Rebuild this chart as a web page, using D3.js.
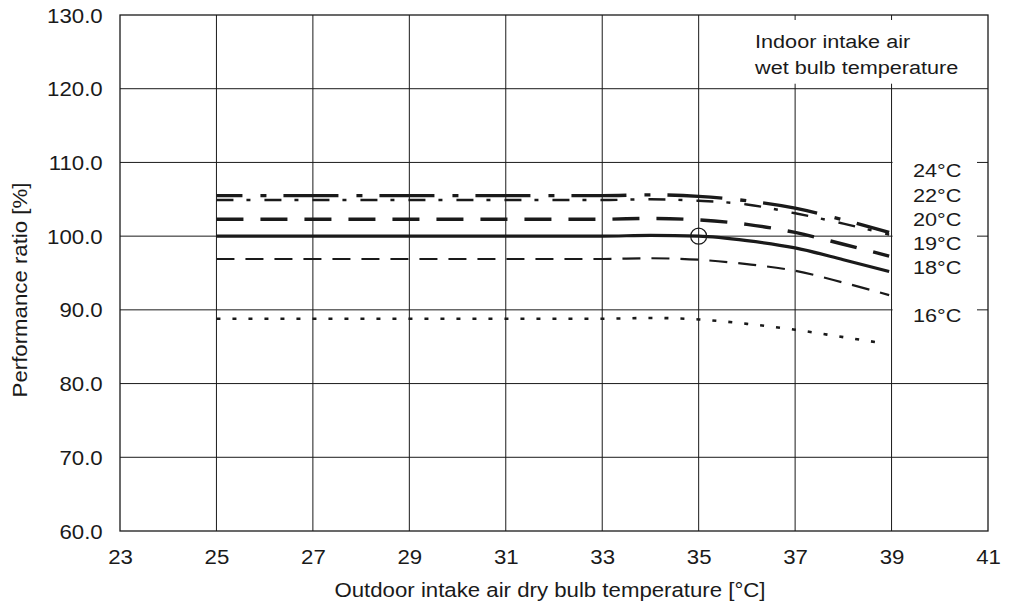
<!DOCTYPE html>
<html>
<head>
<meta charset="utf-8">
<script src="https://cdn.jsdelivr.net/npm/d3@7"></script>
<style>
  body { margin: 0; background: #fff; }
  text { font-family: "Liberation Sans", Arial, Helvetica, sans-serif; fill: #1a1a1a; }
</style>
</head>
<body>
<svg id="chart"></svg>
<script>
// Data
const temps = [25, 33, 34, 35, 36, 37, 38, 38.95];
const temps16 = [25, 33, 34, 35, 36, 37, 38, 38.8];
const wb24 = [105.5, 105.5, 105.6, 105.4, 104.8, 103.8, 102.2, 100.5];
const wb22 = [104.9, 104.9, 105.0, 104.8, 104.3, 103.1, 101.7, 100.2];
const wb20 = [102.3, 102.3, 102.4, 102.2, 101.6, 100.5, 98.9, 97.3];
const wb19 = [100.0, 100.0, 100.1, 100.0, 99.4, 98.4, 96.8, 95.2];
const wb18 = [96.9, 96.9, 97.0, 96.8, 96.2, 95.3, 93.7, 92.0];
const wb16 = [88.8, 88.8, 88.9, 88.7, 88.1, 87.3, 86.3, 85.5];
const seriesLabels = ["24°C", "22°C", "20°C", "19°C", "18°C", "16°C"];
const xTicks = [23, 25, 27, 29, 31, 33, 35, 37, 39, 41];
const yTicks = [60, 70, 80, 90, 100, 110, 120, 130];
const ratedPoint = [35, 100];

const width = 1029, height = 610;
const margin = { top: 15, right: 41, bottom: 79, left: 120 };
const stretch = 1.14; // reference glyphs are wider than Arial

const svg = d3.select("#chart").attr("width", width).attr("height", height);

const x = d3.scaleLinear().domain([23, 41]).range([margin.left, width - margin.right]);
const y = d3.scaleLinear().domain([60, 130]).range([height - margin.bottom, margin.top]);

const ink = "#1a1a1a";

// grid
svg.append("g")
  .selectAll("line.v")
  .data(xTicks.slice(1, -1))
  .join("line")
  .attr("x1", d => x(d)).attr("x2", d => x(d))
  .attr("y1", y(130)).attr("y2", y(60))
  .attr("stroke", ink).attr("stroke-width", 1);

svg.append("g")
  .selectAll("line.h")
  .data(yTicks.slice(1, -1))
  .join("line")
  .attr("x1", x(23)).attr("x2", x(41))
  .attr("y1", d => y(d)).attr("y2", d => y(d))
  .attr("stroke", ink).attr("stroke-width", 1);

// white panels for legend title and series labels (grid shows only as stubs)
svg.append("rect")
  .attr("x", x(35) + 6).attr("y", y(130) + 5)
  .attr("width", x(41) - x(35) - 7).attr("height", y(120) - y(130) - 10)
  .attr("fill", "#fff");
svg.append("rect")
  .attr("x", x(39) + 1).attr("y", y(112))
  .attr("width", x(41) - x(39) - 12).attr("height", y(86) - y(112))
  .attr("fill", "#fff");

// border
svg.append("rect")
  .attr("x", x(23)).attr("y", y(130))
  .attr("width", x(41) - x(23)).attr("height", y(60) - y(130))
  .attr("fill", "none").attr("stroke", ink).attr("stroke-width", 1.3);

// axes
const xAxis = d3.axisBottom(x).tickValues(xTicks).tickSize(0).tickFormat(d3.format("d"));
svg.append("g")
  .attr("transform", `translate(0,${y(60)})`)
  .call(xAxis)
  .call(g => g.select(".domain").remove())
  .call(g => g.selectAll("text")
    .attr("y", 19.5).attr("dy", "0.71em")
    .attr("transform", `scale(${stretch},1)`)
    .attr("font-size", 19.5).attr("fill", ink));

const yAxis = d3.axisLeft(y).tickValues(yTicks).tickSize(0).tickFormat(d3.format(".1f"));
svg.append("g")
  .attr("transform", `translate(${x(23)},0)`)
  .call(yAxis)
  .call(g => g.select(".domain").remove())
  .call(g => g.selectAll("text")
    .attr("x", -17.3 / stretch).attr("dy", "0.36em")
    .attr("transform", `scale(${stretch},1)`)
    .attr("font-size", 19.5).attr("fill", ink));

// axis titles
svg.append("text")
  .attr("transform", `translate(550,597) scale(${stretch},1)`)
  .attr("text-anchor", "middle").attr("font-size", 19.5)
  .text("Outdoor intake air dry bulb temperature [°C]");

svg.append("text")
  .attr("transform", `translate(27,290) rotate(-90) scale(${stretch},1)`)
  .attr("text-anchor", "middle").attr("font-size", 19.5)
  .text("Performance ratio [%]");

// legend title
const legend = svg.append("g");
["Indoor intake air", "wet bulb temperature"].forEach((t, i) => {
  legend.append("text")
    .attr("transform", `translate(755,${47.5 + i * 26}) scale(${stretch},1)`)
    .attr("font-size", 19)
    .text(t);
});

// series
const series = [
  { xs: temps, ys: wb24, width: 3.4, dash: "55,18,6,17", offset: 29 },
  { xs: temps, ys: wb22, width: 2.4, dash: "17,13,4,14", offset: 0 },
  { xs: temps, ys: wb20, width: 3.4, dash: "27,17", offset: 0 },
  { xs: temps, ys: wb19, width: 3.2, dash: null, offset: 0 },
  { xs: temps, ys: wb18, width: 2.2, dash: "18,11", offset: 0 },
  { xs: temps16, ys: wb16, width: 2.6, dash: "4,12", offset: 0 }
];

const line = d3.line()
  .curve(d3.curveMonotoneX)
  .x(d => x(d[0]))
  .y(d => y(d[1]));

svg.append("g")
  .selectAll("path")
  .data(series)
  .join("path")
  .attr("d", s => line(s.xs.map((t, i) => [t, s.ys[i]])))
  .attr("fill", "none")
  .attr("stroke", ink)
  .attr("stroke-width", s => s.width)
  .attr("stroke-dasharray", s => s.dash)
  .attr("stroke-dashoffset", s => s.offset);

// rated point marker
svg.append("circle")
  .attr("cx", x(ratedPoint[0])).attr("cy", y(ratedPoint[1]))
  .attr("r", 8)
  .attr("fill", "none").attr("stroke", ink).attr("stroke-width", 1.2);

// series labels
const labelTop = y(110) + 15;
seriesLabels.forEach((t, i) => {
  const base = i < 5 ? labelTop + i * 24.1 : y(90) + 12;
  svg.append("text")
    .attr("transform", `translate(913,${base}) scale(${stretch},1)`)
    .attr("font-size", 19)
    .text(t);
});
</script>
</body>
</html>
